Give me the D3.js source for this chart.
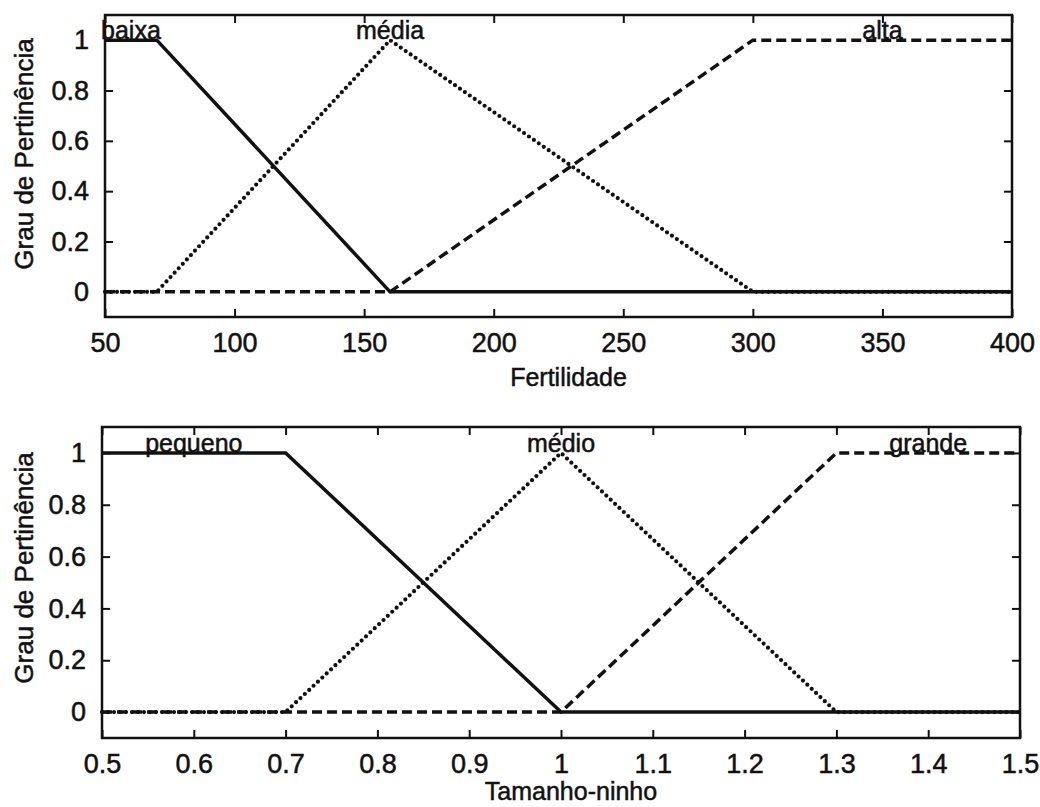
<!DOCTYPE html>
<html>
<head>
<meta charset="utf-8">
<script src="https://cdn.jsdelivr.net/npm/d3@7"></script>
<style>
  body { margin: 0; background: #fff; }
  svg text { font-family: "Liberation Sans", Arial, sans-serif; fill: #111; stroke: #111; stroke-width: 0.5px; }
</style>
</head>
<body>
<svg id="chart" width="1040" height="807"></svg>
<script>
// panel 1 - Fertilidade
const fertX = [50, 70, 160, 300, 400];
const baixaY = [1, 1, 0, 0, 0];
const mediaY = [0, 0, 1, 0, 0];
const altaY = [0, 0, 0, 1, 1];
const fertNames = ["baixa", "média", "alta"];
const fertLabelX = [60, 160, 350];
const fertTicks = [50, 100, 150, 200, 250, 300, 350, 400];

// panel 2 - Tamanho-ninho
const ninhoX = [0.5, 0.7, 1.0, 1.3, 1.5];
const pequenoY = [1, 1, 0, 0, 0];
const medioY = [0, 0, 1, 0, 0];
const grandeY = [0, 0, 0, 1, 1];
const ninhoNames = ["pequeno", "médio", "grande"];
const ninhoLabelX = [0.6, 1.0, 1.4];
const ninhoTicks = [0.5, 0.6, 0.7, 0.8, 0.9, 1.0, 1.1, 1.2, 1.3, 1.4, 1.5];

const yTicks = [0, 0.2, 0.4, 0.6, 0.8, 1];

// solid / dotted / dashed, like plotmf
const styles = [
  { dash: null, width: 3.5, cap: "butt" },
  { dash: "0,6", width: 4.2, cap: "round" },
  { dash: "10,5", width: 3.5, cap: "butt" }
];

const fmt = d => String(+d.toFixed(1));
const svg = d3.select("#chart");

function drawPanel(opts) {
  const { left, right, top, bottom, xs, series, names, labelX, ticks, xTitle, titleY, yLabelY } = opts;
  const x = d3.scaleLinear().domain([xs[0], xs[xs.length - 1]]).range([left, right]);
  const y = d3.scaleLinear().domain([-0.1, 1.1]).range([bottom, top]);
  const g = svg.append("g");

  series.forEach((ys, i) => {
    const line = d3.line().x((d, j) => x(xs[j])).y(d => y(d));
    g.append("path")
      .datum(ys)
      .attr("d", line)
      .attr("fill", "none")
      .attr("stroke", "#111")
      .attr("stroke-width", styles[i].width)
      .attr("stroke-linecap", styles[i].cap)
      .attr("stroke-dasharray", styles[i].dash);
  });

  // axes, ticks point inward and are mirrored on top/right
  const tickLen = 8;
  const axB = g.append("g").attr("transform", `translate(0,${bottom})`)
    .call(d3.axisBottom(x).tickValues(ticks).tickFormat(fmt).tickSizeInner(-tickLen).tickSizeOuter(0).tickPadding(16));
  const axT = g.append("g").attr("transform", `translate(0,${top})`)
    .call(d3.axisTop(x).tickValues(ticks).tickFormat("").tickSizeInner(-tickLen).tickSizeOuter(0));
  const axL = g.append("g").attr("transform", `translate(${left},0)`)
    .call(d3.axisLeft(y).tickValues(yTicks).tickFormat(fmt).tickSizeInner(-tickLen).tickSizeOuter(0).tickPadding(16));
  const axR = g.append("g").attr("transform", `translate(${right},0)`)
    .call(d3.axisRight(y).tickValues(yTicks).tickFormat("").tickSizeInner(-tickLen).tickSizeOuter(0));
  [axB, axT, axL, axR].forEach(a => {
    a.select(".domain").remove();
    a.selectAll(".tick line").attr("stroke", "#111").attr("stroke-width", 2);
    a.selectAll("text").style("font-size", "27px").attr("fill", "#111");
  });

  g.append("rect")
    .attr("x", left).attr("y", top)
    .attr("width", right - left).attr("height", bottom - top)
    .attr("fill", "none").attr("stroke", "#111").attr("stroke-width", 2.5);

  g.selectAll(".mflabel")
    .data(names)
    .enter()
    .append("text")
    .attr("class", "mflabel")
    .attr("x", (d, i) => x(labelX[i]))
    .attr("y", y(1) - 1)
    .attr("text-anchor", "middle")
    .style("font-size", "25px")
    .text(d => d);

  g.append("text")
    .attr("x", (left + right) / 2 + 10)
    .attr("y", titleY)
    .attr("text-anchor", "middle")
    .style("font-size", "25px")
    .text(xTitle);

  g.append("text")
    .attr("transform", `translate(33,${yLabelY}) rotate(-90)`)
    .attr("text-anchor", "middle")
    .style("font-size", "26px")
    .text("Grau de Pertinência");
}

drawPanel({
  left: 105, right: 1012, top: 15, bottom: 317,
  xs: fertX, series: [baixaY, mediaY, altaY],
  names: fertNames, labelX: fertLabelX, ticks: fertTicks,
  xTitle: "Fertilidade", titleY: 386, yLabelY: 154
});

drawPanel({
  left: 102, right: 1020, top: 427, bottom: 738,
  xs: ninhoX, series: [pequenoY, medioY, grandeY],
  names: ninhoNames, labelX: ninhoLabelX, ticks: ninhoTicks,
  xTitle: "Tamanho-ninho", titleY: 800, yLabelY: 568
});
</script>
</body>
</html>
